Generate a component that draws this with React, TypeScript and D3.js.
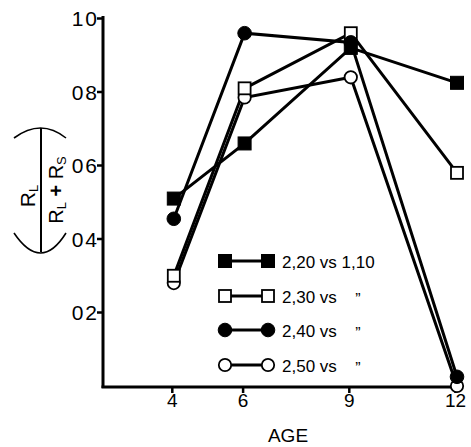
import React from "react";
import * as d3 from "d3";

const ages = [4, 6, 9, 12];
const xTicks = [4, 6, 9, 12];
const yTicks = [1.0, 0.8, 0.6, 0.4, 0.2];
const yTickLabels = ["10", "08", "06", "04", "02"];

const seriesNames = ["2,20 vs 1,10", "2,30 vs", "2,40 vs", "2,50 vs"];
const dittoFlags = [false, true, true, true];
const filledSquare = [0.51, 0.66, 0.92, 0.825];
const openSquare = [0.3, 0.81, 0.96, 0.58];
const filledCircle = [0.455, 0.96, 0.935, 0.025];
const openCircle = [0.28, 0.785, 0.84, 0.0];

const W = 471;
const H = 447;
const FONT = "'Liberation Sans', Arial, Helvetica, sans-serif";

type Series = { values: number[]; shape: "square" | "circle"; filled: boolean };
const series: Series[] = [
  { values: filledSquare, shape: "square", filled: true },
  { values: openSquare, shape: "square", filled: false },
  { values: filledCircle, shape: "circle", filled: true },
  { values: openCircle, shape: "circle", filled: false },
];

function Marker({ x, y, shape, filled }: { x: number; y: number; shape: string; filled: boolean }) {
  if (shape === "square") {
    const s = filled ? 13 : 12;
    return (
      <rect
        x={x - s / 2}
        y={y - s / 2}
        width={s}
        height={s}
        fill={filled ? "#000" : "#fff"}
        stroke="#000"
        strokeWidth={filled ? 1 : 1.8}
      />
    );
  }
  return (
    <circle
      cx={x}
      cy={y}
      r={filled ? 6.8 : 6.2}
      fill={filled ? "#000" : "#fff"}
      stroke="#000"
      strokeWidth={filled ? 1 : 1.8}
    />
  );
}

export default function App() {
  const x = d3.scaleLinear().domain([2, 12]).range([103, 457]);
  const y = d3.scaleLinear().domain([0, 1]).range([386, 18.5]);
  const line = d3
    .line<number>()
    .x((_, i) => x(ages[i]))
    .y((d) => y(d));

  const axisX0 = 103;
  const axisY0 = 387;

  const legendRows = [261, 296, 330, 365];

  return (
    <svg
      width={W}
      height={H}
      style={{ position: "absolute", left: 0, top: 0, background: "#fff" }}
      fontFamily={FONT}
    >
      <rect x={0} y={0} width={W} height={H} fill="#fff" />
      {/* axes */}
      <line x1={axisX0} y1={16} x2={axisX0} y2={axisY0 + 1} stroke="#000" strokeWidth={3} />
      <line x1={axisX0 - 1.5} y1={axisY0} x2={459} y2={axisY0} stroke="#000" strokeWidth={3} />
      {yTicks.map((t, i) => (
        <g key={"yt" + i}>
          <line x1={axisX0 - 6} y1={y(t)} x2={axisX0} y2={y(t)} stroke="#000" strokeWidth={2.5} />
          <text x={97} y={y(t) + 7.5} fontSize={21} textAnchor="end" fill="#000">
            {yTickLabels[i][0]}
            <tspan dx={2}>{yTickLabels[i][1]}</tspan>
          </text>
        </g>
      ))}
      {xTicks.map((t, i) => (
        <g key={"xt" + i}>
          <line x1={x(t) - 1.5} y1={axisY0} x2={x(t) - 1.5} y2={axisY0 + 6} stroke="#000" strokeWidth={2.5} />
          <text x={x(t) - 1.5} y={407} fontSize={19} textAnchor="middle" fill="#000">
            {String(t)}
          </text>
        </g>
      ))}
      <text x={288} y={442} fontSize={19} textAnchor="middle" fill="#000">
        AGE
      </text>

      {/* y title: fraction */}
      <g transform="translate(41,190) rotate(-90)">
        <line x1={-62} y1={0} x2={62} y2={0} stroke="#000" strokeWidth={2} />
        <text x={-6} y={-6} fontSize={21} textAnchor="middle" fill="#000">
          R<tspan fontSize={13} dy={3}>L</tspan>
        </text>
        <text x={0} y={22} fontSize={20} textAnchor="middle" fill="#000">
          R<tspan fontSize={13} dy={3}>L</tspan>
          <tspan dy={-3} fontWeight="bold"> + </tspan>R<tspan fontSize={13} dy={3}>S</tspan>
        </text>
        <path d="M -43,-27 Q -83,0 -43,25" fill="none" stroke="#000" strokeWidth={1.6} />
        <path d="M 52,-27 Q 72,0 52,25" fill="none" stroke="#000" strokeWidth={1.6} />
      </g>

      {/* series lines */}
      {series.map((s, k) => (
        <path key={"l" + k} d={line(s.values) || ""} fill="none" stroke="#000" strokeWidth={3} />
      ))}
      {/* markers */}
      {[3, 1, 2, 0].map((k) =>
        series[k].values.map((v, i) => (
          <Marker key={"m" + k + "-" + i} x={x(ages[i])} y={y(v)} shape={series[k].shape} filled={series[k].filled} />
        ))
      )}

      {/* legend */}
      {series.map((s, k) => (
        <g key={"lg" + k}>
          <line x1={225} y1={legendRows[k]} x2={268} y2={legendRows[k]} stroke="#000" strokeWidth={3} />
          <Marker x={225} y={legendRows[k]} shape={s.shape} filled={s.filled} />
          <Marker x={268} y={legendRows[k]} shape={s.shape} filled={s.filled} />
          <text x={282} y={legendRows[k] + 6.5} fontSize={17} fill="#000">
            {seriesNames[k]}
          </text>
          {dittoFlags[k] && (
            <text x={358} y={legendRows[k] + 9} fontSize={16} textAnchor="middle" fill="#000">
              {"\u201D"}
            </text>
          )}
        </g>
      ))}
    </svg>
  );
}
